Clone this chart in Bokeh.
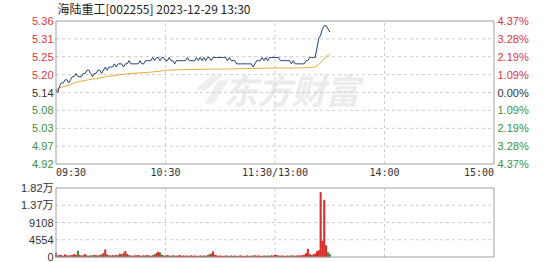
from bokeh.plotting import figure
from bokeh.models import Range1d
from bokeh.core.properties import value
from bokeh.embed import file_html
from bokeh.resources import INLINE

# ---------------- data ----------------
title_text = "海陆重工[002255] 2023-12-29 13:30"
prev_close = 5.14
pct_levels = [4.37, 3.28, 2.19, 1.09, 0.00, -1.09, -2.19, -3.28, -4.37]
price_labels = ["5.36", "5.31", "5.25", "5.20", "5.14", "5.08", "5.03", "4.97", "4.92"]
pct_labels = ["4.37%", "3.28%", "2.19%", "1.09%", "0.00%", "1.09%", "2.19%", "3.28%", "4.37%"]
time_ticks = [0, 60, 120, 180, 240]
time_labels = ["09:30", "10:30", "11:30/13:00", "14:00", "15:00"]
vol_ticks = [0, 4554, 9108, 13662, 18216]
vol_labels = ["0", "4554", "9108", "1.37万", "1.82万"]

price = [
    5.15, 5.14, 5.16, 5.17, 5.17, 5.18, 5.18, 5.17, 5.18, 5.19,
    5.19, 5.20, 5.19, 5.19, 5.19, 5.20, 5.20, 5.21, 5.21, 5.20,
    5.19, 5.20, 5.20, 5.21, 5.21, 5.20, 5.21, 5.22, 5.21, 5.22,
    5.22, 5.22, 5.23, 5.22, 5.23, 5.23, 5.23, 5.22, 5.23, 5.23,
    5.24, 5.23, 5.23, 5.23, 5.23, 5.23, 5.24, 5.23, 5.23, 5.24,
    5.24, 5.24, 5.24, 5.25, 5.24, 5.25, 5.25, 5.24, 5.25, 5.25,
    5.24, 5.24, 5.25, 5.24, 5.24, 5.23, 5.24, 5.24, 5.24, 5.24,
    5.24, 5.24, 5.25, 5.24, 5.24, 5.24, 5.24, 5.25, 5.24, 5.25,
    5.24, 5.25, 5.24, 5.25, 5.25, 5.24, 5.25, 5.25, 5.25, 5.25,
    5.25, 5.25, 5.25, 5.25, 5.24, 5.25, 5.24, 5.24, 5.24, 5.23,
    5.23, 5.23, 5.23, 5.23, 5.23, 5.23, 5.23, 5.23, 5.22, 5.23,
    5.24, 5.24, 5.24, 5.25, 5.24, 5.25, 5.24, 5.25, 5.25, 5.25,
    5.25, 5.25, 5.25, 5.24, 5.24, 5.24, 5.24, 5.24, 5.24, 5.23,
    5.24, 5.23, 5.23, 5.23, 5.23, 5.23, 5.23, 5.24, 5.24, 5.25,
    5.25, 5.25, 5.25, 5.28, 5.31, 5.32, 5.34, 5.35, 5.35, 5.34,
    5.33,
]

avg_minutes = [0, 2, 5, 8, 10, 13, 16, 20, 24, 28, 35, 41, 50, 57, 60, 70,
               80, 96, 110, 120, 130, 138, 142, 144, 146, 148, 150]
avg_price = [5.150, 5.155, 5.160, 5.165, 5.170, 5.175, 5.178, 5.182, 5.186,
             5.190, 5.196, 5.200, 5.203, 5.207, 5.210, 5.212, 5.213, 5.214,
             5.216, 5.217, 5.217, 5.218, 5.220, 5.228, 5.240, 5.253, 5.260]

volume = [
    1000, 300, 500, 400, 250, 600, 350, 300, 450, 400,
    700, 500, 1600, 400, 300, 350, 700, 300, 250, 400,
    300, 500, 350, 300, 450, 600, 900, 1900, 600, 350,
    300, 400, 300, 500, 350, 800, 600, 1000, 1500, 700,
    400, 300, 250, 350, 300, 400, 300, 250, 350, 300,
    400, 300, 250, 400, 600, 900, 1300, 1100, 500, 300,
    250, 400, 300, 250, 350, 300, 250, 300, 400, 250,
    300, 250, 300, 200, 350, 250, 300, 250, 200, 300,
    250, 300, 250, 400, 600, 800, 1400, 500, 300, 250,
    300, 250, 200, 300, 250, 200, 300, 250, 300, 200,
    250, 300, 250, 200, 250, 300, 200, 250, 300, 350,
    250, 300, 250, 200, 300, 250, 300, 250, 350, 300,
    500, 400, 300, 250, 300, 250, 200, 300, 250, 350,
    300, 250, 300, 350, 300, 400, 500, 900, 2100, 700,
    400, 600, 800, 1400, 1700, 17000, 4200, 15000, 3000, 1200,
    700,
]
minutes = list(range(len(price)))

# ---------------- layout / styles ----------------
W, H = 549, 262
RED = "#d9363e"
GREEN = "#3c8f3c"
DARK = "#333333"
GRID = "#cccccc"
OUTLINE = "#a0a0a0"
LABEL_FONT = value("Liberation Sans, Noto Sans CJK SC")

# pixel placement of the two panels (canvas coordinates, y from top)
LEFT_PX, RIGHT_PX = 55.5, 493.5
MAIN_TOP_PX, MAIN_BOT_PX = 20.5, 163.5
VOL_TOP_PX, VOL_BOT_PX = 187.5, 256.5

x_lo, x_hi = time_ticks[0], time_ticks[-1]
kx = (x_hi - x_lo) / (RIGHT_PX - LEFT_PX)           # minutes per px

span = prev_close * pct_levels[0] / 100.0
y_lo, y_hi = prev_close - span, prev_close + span
ky = (y_hi - y_lo) / (MAIN_BOT_PX - MAIN_TOP_PX)      # price per px

v_lo, v_hi = vol_ticks[0], vol_ticks[-1]
kv = (v_hi - v_lo) / (VOL_BOT_PX - VOL_TOP_PX)        # volume per px


def xpx(px):
    """minute value at canvas pixel column px"""
    return x_lo + (px - LEFT_PX) * kx


def ypx(px):
    """price value at canvas pixel row px"""
    return y_hi - (px - MAIN_TOP_PX) * ky


def vpx(px):
    """volume value at canvas pixel row px"""
    return v_hi - (px - VOL_TOP_PX) * kv


p = figure(width=W, height=H, title=None, toolbar_location=None,
           output_backend="svg", x_axis_location=None, y_axis_location=None,
           x_range=Range1d(xpx(0), xpx(W)), y_range=Range1d(ypx(H), ypx(0)),
           min_border=0, min_border_left=0, min_border_right=0,
           min_border_top=0, min_border_bottom=0)
p.extra_y_ranges = {"vol": Range1d(vpx(H), vpx(0))}
p.outline_line_color = None
p.grid.visible = False
p.background_fill_color = "white"
p.border_fill_color = "white"

level_prices = [prev_close * (1 + v / 100.0) for v in pct_levels]
inner_levels = level_prices[1:-1]
inner_times = time_ticks[1:-1]
inner_vols = vol_ticks[1:-1]

# watermark (drawn first, beneath everything): logo mark + brand text
logo_xs = [[xpx(195), xpx(211), xpx(222), xpx(205)],
           [xpx(204), xpx(218), xpx(228), xpx(213)]]
logo_ys = [[ypx(89), ypx(75), ypx(75), ypx(90)],
           [ypx(103), ypx(80), ypx(80), ypx(103)]]
p.patches(xs=logo_xs, ys=logo_ys, fill_color="#eeeeee", line_color=None)
p.text(x=[xpx(291)], y=[ypx(89)], text=["东方财富"],
       text_font=value("Noto Sans CJK SC"), text_font_size="34px",
       text_font_style="bold italic", text_color="#ebebeb",
       text_align="center", text_baseline="middle")

# grids of the price panel
p.segment(x0=[x_lo] * len(inner_levels), x1=[x_hi] * len(inner_levels),
          y0=inner_levels, y1=inner_levels, line_color=GRID, line_dash="3 3")
p.segment(x0=inner_times, x1=inner_times, y0=[y_lo] * len(inner_times),
          y1=[y_hi] * len(inner_times), line_color=GRID, line_dash="3 3")
# grids of the volume panel
p.segment(x0=[x_lo] * len(inner_vols), x1=[x_hi] * len(inner_vols),
          y0=inner_vols, y1=inner_vols, line_color=GRID, line_dash="3 3",
          y_range_name="vol")
p.segment(x0=inner_times, x1=inner_times, y0=[v_lo] * len(inner_times),
          y1=[v_hi] * len(inner_times), line_color=GRID, line_dash="3 3",
          y_range_name="vol")

# price and average lines
p.line(avg_minutes, avg_price, line_color="#e6ad3e", line_width=1)
p.line(minutes, price, line_color="#233f73", line_width=1)

# volume bars
bar_colors = ["#d42a2a" if i == 0 or price[i] >= price[i - 1] else "#3a8a3a"
              for i in range(len(price))]
p.vbar(x=minutes, top=volume, bottom=0, width=0.55, color=bar_colors,
       y_range_name="vol")

# panel outlines
p.quad(left=[x_lo], right=[x_hi], bottom=[y_lo], top=[y_hi],
       fill_color=None, line_color=OUTLINE)
p.quad(left=[x_lo], right=[x_hi], bottom=[v_lo], top=[v_hi],
       fill_color=None, line_color=OUTLINE, y_range_name="vol")

# title
p.text(x=[xpx(57)], y=[ypx(8)], text=[title_text],
       text_font=value("Noto Sans CJK SC"), text_font_size="12px",
       text_color="#222222", text_align="left", text_baseline="middle")

# price / percent labels
label_colors = [RED if v > 0 else (GREEN if v < 0 else DARK) for v in pct_levels]
p.text(x=[xpx(53)] * len(level_prices), y=level_prices, text=price_labels,
       text_font=LABEL_FONT, text_font_size="11px", text_color=label_colors,
       text_align="right", text_baseline="middle")
p.text(x=[xpx(497)] * len(level_prices), y=level_prices, text=pct_labels,
       text_font=LABEL_FONT, text_font_size="11px", text_color=label_colors,
       text_align="left", text_baseline="middle")

# time labels
aligns = ["left", "center", "center", "center", "right"]
p.text(x=time_ticks, y=[ypx(172)] * len(time_ticks), text=time_labels,
       text_font=value("DejaVu Sans Mono"), text_font_size="10px",
       text_color=DARK, text_align=aligns, text_baseline="middle")

# volume labels
p.text(x=[xpx(53)] * len(vol_ticks), y=vol_ticks, text=vol_labels,
       text_font=LABEL_FONT, text_font_size="11px", text_color=DARK,
       text_align="right", text_baseline="middle", y_range_name="vol")

open("out.html", "w").write(file_html(p, INLINE))
